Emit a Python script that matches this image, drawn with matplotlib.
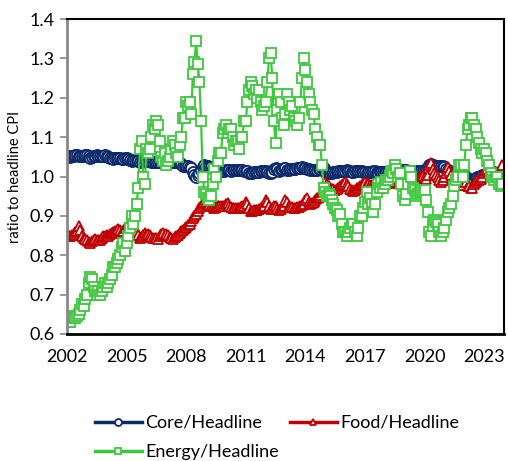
import numpy as np
import pandas as pd
import matplotlib
matplotlib.use("Agg")
import matplotlib.pyplot as plt
from matplotlib.lines import Line2D

plt.rcParams['font.family'] = ['Lato', 'DejaVu Sans']

# monthly ratios, Jan 2002 - Dec 2023 (one row per year)
core = [
    1.052, 1.051, 1.050, 1.052, 1.053, 1.054, 1.055, 1.053, 1.052, 1.051, 1.052, 1.055,
    1.054, 1.051, 1.048, 1.050, 1.052, 1.053, 1.054, 1.052, 1.051, 1.052, 1.053, 1.054,
    1.052, 1.050, 1.048, 1.046, 1.045, 1.046, 1.047, 1.047, 1.046, 1.044, 1.045, 1.047,
    1.046, 1.044, 1.042, 1.040, 1.041, 1.043, 1.041, 1.039, 1.036, 1.037, 1.040, 1.041,
    1.040, 1.040, 1.039, 1.037, 1.036, 1.037, 1.036, 1.036, 1.038, 1.040, 1.040, 1.039,
    1.041, 1.039, 1.037, 1.036, 1.036, 1.037, 1.037, 1.036, 1.034, 1.032, 1.028, 1.028,
    1.027, 1.027, 1.025, 1.021, 1.012, 1.004, 1.000, 1.003, 1.008, 1.017, 1.025, 1.030,
    1.028, 1.026, 1.025, 1.024, 1.022, 1.018, 1.018, 1.016, 1.015, 1.016, 1.014, 1.015,
    1.016, 1.017, 1.016, 1.015, 1.016, 1.017, 1.016, 1.016, 1.017, 1.016, 1.016, 1.014,
    1.015, 1.013, 1.010, 1.008, 1.009, 1.011, 1.011, 1.011, 1.011, 1.013, 1.014, 1.015,
    1.015, 1.012, 1.009, 1.009, 1.012, 1.018, 1.022, 1.018, 1.015, 1.016, 1.019, 1.021,
    1.021, 1.016, 1.017, 1.019, 1.020, 1.019, 1.020, 1.021, 1.021, 1.023, 1.024, 1.023,
    1.022, 1.020, 1.018, 1.017, 1.017, 1.016, 1.017, 1.017, 1.018, 1.019, 1.021, 1.022,
    1.012, 1.011, 1.010, 1.010, 1.010, 1.011, 1.012, 1.012, 1.013, 1.013, 1.014, 1.014,
    1.015, 1.016, 1.015, 1.013, 1.012, 1.012, 1.013, 1.014, 1.014, 1.013, 1.013, 1.012,
    1.011, 1.010, 1.011, 1.012, 1.012, 1.013, 1.013, 1.012, 1.010, 1.011, 1.011, 1.011,
    1.012, 1.011, 1.011, 1.010, 1.009, 1.009, 1.009, 1.010, 1.011, 1.012, 1.014, 1.016,
    1.017, 1.016, 1.014, 1.012, 1.012, 1.013, 1.013, 1.014, 1.014, 1.014, 1.014, 1.014,
    1.015, 1.018, 1.022, 1.030, 1.033, 1.030, 1.028, 1.027, 1.026, 1.027, 1.028, 1.026,
    1.024, 1.020, 1.016, 1.013, 1.012, 1.011, 1.010, 1.008, 1.008, 1.005, 1.004, 1.006,
    1.004, 0.999, 0.994, 0.993, 0.990, 0.988, 0.992, 0.996, 0.998, 0.999, 1.001, 1.004,
    1.003, 1.004, 1.006, 1.008, 1.009, 1.010, 1.011, 1.010, 1.009, 1.010, 1.011, 1.012,
]

food = [
    0.855, 0.850, 0.848, 0.852, 0.855, 0.858, 0.862, 0.875, 0.865, 0.850, 0.845, 0.842,
    0.840, 0.835, 0.832, 0.836, 0.840, 0.842, 0.840, 0.838, 0.840, 0.845, 0.850, 0.848,
    0.852, 0.850, 0.853, 0.857, 0.860, 0.862, 0.865, 0.868, 0.865, 0.860, 0.862, 0.870,
    0.872, 0.868, 0.862, 0.860, 0.863, 0.860, 0.858, 0.852, 0.845, 0.846, 0.852, 0.856,
    0.852, 0.855, 0.852, 0.847, 0.843, 0.845, 0.843, 0.842, 0.848, 0.855, 0.856, 0.852,
    0.855, 0.852, 0.846, 0.843, 0.842, 0.846, 0.849, 0.852, 0.856, 0.862, 0.865, 0.870,
    0.873, 0.876, 0.880, 0.888, 0.895, 0.900, 0.905, 0.912, 0.920, 0.925, 0.930, 0.935,
    0.935, 0.930, 0.928, 0.926, 0.925, 0.920, 0.922, 0.924, 0.925, 0.926, 0.926, 0.924,
    0.930, 0.932, 0.925, 0.922, 0.920, 0.921, 0.920, 0.920, 0.921, 0.923, 0.925, 0.925,
    0.935, 0.930, 0.920, 0.912, 0.913, 0.916, 0.915, 0.915, 0.918, 0.920, 0.922, 0.925,
    0.940, 0.935, 0.925, 0.918, 0.920, 0.925, 0.925, 0.918, 0.915, 0.918, 0.922, 0.925,
    0.940, 0.935, 0.925, 0.922, 0.922, 0.920, 0.920, 0.922, 0.922, 0.925, 0.928, 0.930,
    0.940, 0.945, 0.935, 0.930, 0.932, 0.935, 0.940, 0.945, 0.948, 0.952, 0.960, 0.975,
    0.985, 0.980, 0.975, 0.970, 0.968, 0.968, 0.965, 0.968, 0.972, 0.975, 0.978, 0.980,
    0.985, 0.982, 0.975, 0.968, 0.965, 0.963, 0.965, 0.970, 0.972, 0.975, 0.978, 0.980,
    0.985, 0.982, 0.980, 0.978, 0.978, 0.980, 0.982, 0.983, 0.982, 0.985, 0.987, 0.990,
    0.990, 0.988, 0.986, 0.985, 0.984, 0.985, 0.986, 0.987, 0.988, 0.990, 0.995, 1.000,
    1.002, 1.000, 0.995, 0.990, 0.990, 0.992, 0.995, 0.994, 0.996, 0.998, 1.000, 1.002,
    1.000, 0.995, 1.005, 1.030, 1.035, 1.020, 1.010, 1.005, 0.998, 0.990, 0.985, 0.990,
    1.000, 1.010, 1.025, 1.015, 1.005, 0.995, 0.990, 0.985, 0.982, 0.980, 0.978, 0.985,
    0.990, 0.985, 0.975, 0.975, 0.972, 0.970, 0.980, 0.985, 0.990, 0.992, 0.995, 1.000,
    1.010, 1.015, 1.020, 1.015, 1.010, 1.005, 1.010, 1.005, 1.000, 1.010, 1.020, 1.030,
]

energy = [
    0.640, 0.630, 0.630, 0.640, 0.645, 0.640, 0.645, 0.650, 0.660, 0.675, 0.670, 0.690,
    0.700, 0.730, 0.745, 0.740, 0.720, 0.710, 0.700, 0.710, 0.700, 0.710, 0.720, 0.730,
    0.720, 0.730, 0.740, 0.750, 0.770, 0.770, 0.780, 0.790, 0.800, 0.820, 0.830, 0.810,
    0.830, 0.850, 0.870, 0.900, 0.880, 0.900, 0.930, 0.970, 1.070, 1.090, 1.000, 0.980,
    1.070, 1.060, 1.070, 1.100, 1.130, 1.120, 1.140, 1.130, 1.090, 1.050, 1.040, 1.060,
    1.030, 1.040, 1.050, 1.070, 1.090, 1.080, 1.060, 1.050, 1.080, 1.100, 1.150, 1.150,
    1.190, 1.180, 1.190, 1.160, 1.260, 1.290, 1.345, 1.285, 1.240, 1.140, 1.000, 0.960,
    0.955, 0.945, 0.940, 0.950, 0.980, 1.020, 1.000, 1.040, 1.060, 1.060, 1.110, 1.120,
    1.130, 1.110, 1.120, 1.120, 1.100, 1.080, 1.090, 1.090, 1.070, 1.100, 1.100, 1.140,
    1.140, 1.190, 1.220, 1.240, 1.230, 1.210, 1.220, 1.200, 1.220, 1.190, 1.170, 1.180,
    1.190, 1.240, 1.300, 1.315, 1.250, 1.140, 1.085, 1.170, 1.210, 1.190, 1.150, 1.130,
    1.160, 1.210, 1.190, 1.170, 1.180, 1.150, 1.140, 1.130, 1.150, 1.190, 1.250, 1.300,
    1.270, 1.240, 1.210, 1.190, 1.170, 1.160, 1.120, 1.100, 1.080, 1.080, 1.030, 0.970,
    0.960, 0.950, 0.955, 0.950, 0.940, 0.930, 0.920, 0.915, 0.900, 0.905, 0.880, 0.860,
    0.860, 0.850, 0.860, 0.870, 0.880, 0.880, 0.860, 0.850, 0.870, 0.900, 0.900, 0.920,
    0.935, 0.960, 0.930, 0.945, 0.930, 0.910, 0.930, 0.960, 0.980, 0.970, 0.985, 0.970,
    0.980, 0.990, 0.990, 1.000, 1.015, 1.010, 1.030, 1.020, 1.000, 1.010, 0.980, 0.950,
    0.940, 0.955, 0.980, 1.015, 1.000, 0.970, 0.965, 0.950, 0.955, 0.960, 0.965, 0.960,
    0.965, 0.940, 0.910, 0.860, 0.850, 0.875, 0.890, 0.885, 0.880, 0.860, 0.850, 0.860,
    0.870, 0.890, 0.910, 0.920, 0.930, 0.950, 0.975, 0.990, 1.000, 1.030, 1.030, 1.000,
    1.030, 1.080, 1.120, 1.130, 1.150, 1.150, 1.130, 1.120, 1.100, 1.085, 1.070, 1.060,
    1.070, 1.060, 1.040, 1.030, 1.010, 1.000, 0.990, 1.000, 1.000, 0.980, 0.975, 0.980,
]

labels = ["Core/Headline", "Food/Headline", "Energy/Headline"]
colors = ["#0B2A6B", "#C00000", "#3CC83C"]
markers = ["o", "^", "s"]
msizes = [8, 7.5, 7.5]
year_ticks = list(range(2002, 2024, 3))

months = pd.date_range("2002-01-01", periods=len(core), freq="MS")
x = months.year + (months.month - 1) / 12.0

fig = plt.figure(figsize=(5.08, 4.61), dpi=100)
ax = fig.add_axes([0.132, 0.2755, 0.86, 0.683])

for vals, c, m, ms in zip([core, food, energy], colors, markers, msizes):
    ax.plot(x, vals, color=c, lw=1.6, marker=m, markersize=ms,
            markerfacecolor="white", markeredgecolor=c, markeredgewidth=1.3)

ax.set_xlim(2002, 2024)
ax.set_ylim(0.6, 1.4)
ax.set_xticks(year_ticks)
ax.set_xticklabels([str(y) for y in year_ticks])
ax.set_yticks(np.arange(0.6, 1.41, 0.1))
ax.set_yticklabels([f"{v:.1f}" for v in np.arange(0.6, 1.41, 0.1)])
ax.tick_params(axis="x", length=0, pad=11, labelsize=13)
ax.tick_params(axis="y", length=5, width=1.2, color="#888888", pad=4, labelsize=13)
ax.set_ylabel("ratio to headline CPI", fontsize=10.5, labelpad=5)

for side in ["top", "right"]:
    ax.spines[side].set_color("black")
    ax.spines[side].set_linewidth(1.5)
ax.spines["bottom"].set_color("black")
ax.spines["bottom"].set_linewidth(2)
ax.spines["left"].set_color("#888888")
ax.spines["left"].set_linewidth(2)

handles = [Line2D([], [], color=c, lw=2.5, marker=m, markersize=5,
                  markerfacecolor="white", markeredgecolor=c, markeredgewidth=1.3)
           for c, m in zip(colors, markers)]
order = [0, 2, 1]
fig.legend([handles[i] for i in order], [labels[i] for i in order],
           loc="upper left", bbox_to_anchor=(0.187, 0.1), ncol=2, frameon=False,
           fontsize=13, handlelength=2.6, handletextpad=0.2, columnspacing=0.6,
           labelspacing=0.75, borderaxespad=0, borderpad=0)

fig.savefig("out.png", dpi=100)
